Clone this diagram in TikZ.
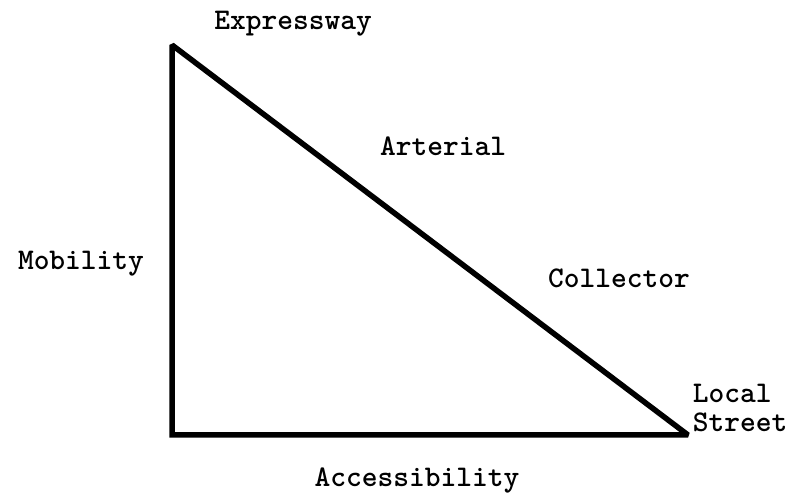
\documentclass[tikz,border=0pt]{standalone}
\usepackage{fontspec}
\usepackage{tikz}

\begin{document}
\begin{tikzpicture}[x=1pt,y=-1pt,line width=5.5pt,
  lbl/.style={font=\fontsize{30}{32}\selectfont\ttfamily\bfseries,inner sep=0pt,anchor=base}]
\useasboundingbox (0,0) rectangle (788,494);
% triangle
\coordinate (top) at (172,45);
\coordinate (corner) at (172,435);
\coordinate (tip) at (688,435);
\draw[miter limit=2] (top) -- (corner) -- (tip) -- cycle;
% road classes along the slope
\node[lbl] (express) at (293,30) {Expressway};
\node[lbl] (arterial) at (443,156) {Arterial};
\node[lbl] (collector) at (619,288) {Collector};
\node[lbl,anchor=base west] (local) at (690,403) {Local};
\node[lbl,anchor=base west] (street) at (690,432) {Street};
% axes
\node[lbl] (mobility) at (81,270) {Mobility};
\node[lbl] (access) at (417,487) {Accessibility};
\end{tikzpicture}
\end{document}
